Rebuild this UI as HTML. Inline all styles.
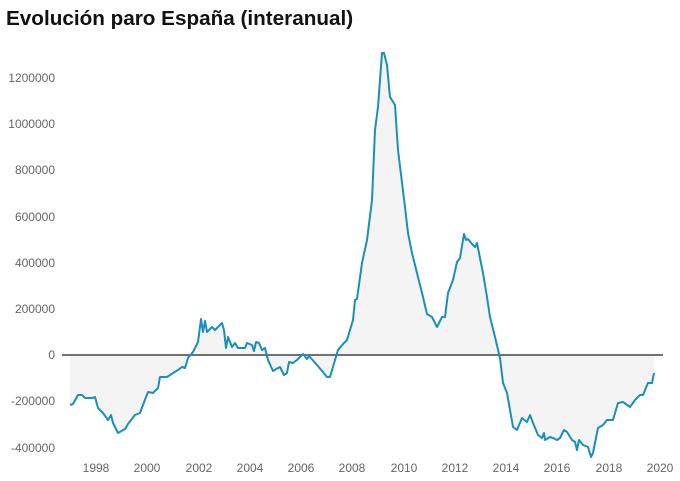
<!DOCTYPE html>
<html><head><meta charset="utf-8"><style>
body{margin:0;background:#fff;width:680px;height:476px;overflow:hidden;font-family:"Liberation Sans",sans-serif}
</style></head><body>
<svg width="680" height="476" viewBox="0 0 680 476" xmlns="http://www.w3.org/2000/svg">
<text x="6" y="25" font-size="20.7" font-weight="bold" fill="#111" font-family="Liberation Sans, sans-serif">Evolución paro España (interanual)</text>
<g font-size="12" fill="#666" text-anchor="end" font-family="Liberation Sans, sans-serif">
<text x="55" y="82">1200000</text>
<text x="55" y="128">1000000</text>
<text x="55" y="174">800000</text>
<text x="55" y="221">600000</text>
<text x="55" y="267">400000</text>
<text x="55" y="313">200000</text>
<text x="55" y="359">0</text>
<text x="55" y="405">-200000</text>
<text x="55" y="452">-400000</text>
</g>
<g font-size="12" fill="#666" text-anchor="middle" font-family="Liberation Sans, sans-serif">
<text x="96" y="472">1998</text><text x="147" y="472">2000</text><text x="199" y="472">2002</text>
<text x="250" y="472">2004</text><text x="301" y="472">2006</text><text x="352" y="472">2008</text>
<text x="404" y="472">2010</text><text x="455" y="472">2012</text><text x="506" y="472">2014</text>
<text x="557" y="472">2016</text><text x="609" y="472">2018</text><text x="660" y="472">2020</text>
</g>
<path fill="#f4f4f4" stroke="none" d="M70,355 L70,405 73,404 78,395 82,395 85,398 92,398 95,397 98,408 103,413 108,420 111,415 113,423 118,433 125,429 128,424 135,415 140,413 143,405 148,392 153,393 158,388 160,377 167,377 173,373 178,370 182,367 185,368 188,358 193,352 198,342 201,319 203,332 205,321 207,332 212,327 215,330 222,323 224,330 226,348 228,337 232,347 235,343 238,348 245,348 247,343 252,345 254,351 256,342 259,343 262,350 265,348 268,360 273,371 278,368 280,367 284,375 287,373 289,362 293,363 297,360 303,354 307,359 309,356 317,365 327,377 330,377 335,360 338,350 343,344 347,340 353,320 355,300 357,299 362,263 367,240 372,200 375,130 378,107 382,53 384,53 387,65 390,97 395,105 398,150 405,207 408,233 412,253 417,273 423,297 427,314 432,317 437,327 442,317 445,317 448,293 453,280 457,262 460,258 464,234 466,240 468,239 472,244 475,247 477,243 483,273 487,297 490,317 495,337 500,358 503,383 507,393 510,410 513,427 517,430 522,418 527,422 530,415 533,423 538,435 542,438 544,433 545,440 550,437 553,438 557,440 560,438 564,430 567,432 572,440 575,442 577,450 579,440 583,445 588,447 591,457 593,453 598,428 603,425 607,420 613,420 618,403 623,402 630,407 635,400 640,395 643,395 648,383 652,383 654,373 L654,355 Z"/>
<line x1="62" y1="355" x2="663" y2="355" stroke="#444" stroke-width="1.5"/>
<path fill="none" stroke="#1a8fb8" stroke-width="2" stroke-linejoin="round" d="M70,405 73,404 78,395 82,395 85,398 92,398 95,397 98,408 103,413 108,420 111,415 113,423 118,433 125,429 128,424 135,415 140,413 143,405 148,392 153,393 158,388 160,377 167,377 173,373 178,370 182,367 185,368 188,358 193,352 198,342 201,319 203,332 205,321 207,332 212,327 215,330 222,323 224,330 226,348 228,337 232,347 235,343 238,348 245,348 247,343 252,345 254,351 256,342 259,343 262,350 265,348 268,360 273,371 278,368 280,367 284,375 287,373 289,362 293,363 297,360 303,354 307,359 309,356 317,365 327,377 330,377 335,360 338,350 343,344 347,340 353,320 355,300 357,299 362,263 367,240 372,200 375,130 378,107 382,53 384,53 387,65 390,97 395,105 398,150 405,207 408,233 412,253 417,273 423,297 427,314 432,317 437,327 442,317 445,317 448,293 453,280 457,262 460,258 464,234 466,240 468,239 472,244 475,247 477,243 483,273 487,297 490,317 495,337 500,358 503,383 507,393 510,410 513,427 517,430 522,418 527,422 530,415 533,423 538,435 542,438 544,433 545,440 550,437 553,438 557,440 560,438 564,430 567,432 572,440 575,442 577,450 579,440 583,445 588,447 591,457 593,453 598,428 603,425 607,420 613,420 618,403 623,402 630,407 635,400 640,395 643,395 648,383 652,383 654,373"/>
</svg>
</body></html>
